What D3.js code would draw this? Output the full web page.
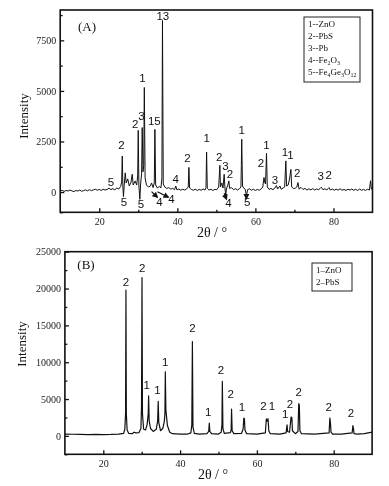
<!DOCTYPE html>
<html>
<head>
<meta charset="utf-8">
<script src="https://cdn.jsdelivr.net/npm/d3@7"></script>
<style>
body { margin: 0; background: #fff; }
svg { will-change: transform; }
.tick text { font-family: "Liberation Serif", "Times New Roman", serif; font-size: 10px; fill: #222; }
.peak { font-family: "Liberation Sans", Arial, sans-serif; font-size: 11.5px; fill: #111; }
.serif { font-family: "Liberation Serif", "Times New Roman", serif; fill: #111; }
</style>
</head>
<body>
<div id="chart"></div>
<script>
var svgWidth = 389;
var svgHeight = 486;

// shared x axis (2 theta, degrees)
var xTicks = [20, 40, 60, 80];
var xMinorTicks = [30, 50, 70];

// ---- panel (A) ----
var yTicksA = [0, 2500, 5000, 7500];
var yMinorTicksA = [-1000, 1250, 3750, 6250, 8750];
var profileA = [
  [10,40],[10.5,90],[11,30],[11.5,80],[12,50],[12.5,100],[13,60],[13.5,20],[14,80],[14.5,50],
  [15,100],[15.5,40],[16,70],[16.5,110],[17,60],[17.5,120],[18,70],[18.5,110],[19,140],[19.5,90],
  [20,130],[20.5,80],[21,140],[21.5,100],[22,130],[22.5,190],[23,120],[23.5,170],[24,110],[24.5,200],
  [25,150],[25.5,280],[25.75,500],[25.9,1780],[26.05,300],[26.2,-230],[26.4,350],[26.66,950],[26.9,450],
  [27.3,650],[27.7,300],[28.1,450],[28.45,880],[28.7,350],[29.2,550],[29.6,350],[29.85,800],[29.99,3050],
  [30.15,350],[30.4,-360],[30.6,400],[30.85,900],[31.01,3190],[31.2,1000],[31.4,1300],[31.55,5170],
  [31.75,700],[32.1,350],[32.6,250],[33.1,300],[33.4,450],[33.8,220],[34.1,450],[34.26,3100],[34.45,350],
  [34.9,200],[35.4,280],[35.8,200],[36.05,700],[36.2,8480],[36.4,400],[36.8,250],[37.3,180],[37.8,220],
  [38.3,150],[38.8,180],[39.3,120],[39.6,300],[39.9,110],[40.4,150],[40.9,90],[41.4,140],[41.9,100],
  [42.4,160],[42.8,250],[42.97,1220],[43.15,200],[43.6,130],[44.1,90],[44.6,140],[45.1,80],[45.6,130],
  [46.1,90],[46.6,150],[47.1,100],[47.35,220],[47.5,1980],[47.68,180],[48.1,100],[48.6,140],[49.1,80],
  [49.6,130],[50.1,120],[50.6,250],[50.9,1320],[51.05,250],[51.4,450],[51.7,200],[52.0,880],[52.2,200],
  [52.4,-150],[52.6,200],[52.9,300],[53.2,550],[53.4,180],[53.9,220],[54.4,120],[54.9,170],[55.4,100],
  [55.9,160],[56.3,250],[56.4,1300],[56.5,2610],[56.7,300],[57.0,200],[57.4,140],[57.7,-200],[58.0,120],
  [58.5,160],[59,90],[59.5,140],[60,80],[60.5,130],[61,90],[61.5,160],[61.9,250],[62.2,720],[62.45,450],
  [62.6,400],[62.85,1920],[63.05,250],[63.5,130],[64,180],[64.5,120],[65,200],[65.4,320],[65.7,150],
  [66.3,300],[66.6,140],[67.1,200],[67.5,250],[67.8,1540],[68.0,300],[68.4,350],[68.7,600],[69.1,1120],
  [69.3,250],[69.8,170],[70.3,200],[70.6,250],[70.9,470],[71.2,150],[71.7,230],[72.2,130],[72.7,180],
  [73.2,100],[73.7,160],[74.2,110],[74.7,170],[75.2,100],[75.7,150],[76.2,120],[76.6,180],[76.9,240],
  [77.3,120],[77.8,160],[78.3,110],[78.7,180],[78.9,220],[79.2,100],[79.7,150],[80.2,90],[80.7,140],
  [81.2,100],[81.7,160],[82.2,90],[82.7,130],[83.2,80],[83.7,140],[84.2,100],[84.7,150],[85.2,90],
  [85.7,130],[86.2,80],[86.7,150],[87.2,90],[87.7,130],[88.2,80],[88.7,140],[89.2,100],[89.5,560],
  [89.7,150],[90,120]
];
var labelsA = [
  [23.0,514,"5"],[26.3,-474,"5"],[30.7,-588,"5"],[35.4,-474,"4"],[38.5,-341,"4"],[39.6,647,"4"],
  [25.7,2327,"2"],[29.2,3350,"2"],[30.8,3775,"3"],[31.1,5637,"1"],[34.1,3528,"15"],[36.3,8700,"13"],
  [42.6,1670,"2"],[47.5,2658,"1"],[50.7,1750,"2"],[52.3,1304,"3"],[53.5,894,"2"],[53.1,-524,"4"],
  [56.5,3068,"1"],[57.9,-474,"5"],[61.4,1423,"2"],[62.85,2327,"1"],[65.0,598,"3"],[67.6,1996,"1"],
  [69.0,1833,"1"],[70.7,958,"2"],[76.75,796,"3"],[78.8,845,"2"]
];
var arrowsA = [
  [33.4,20,34.9,-257],[34.9,20,37.7,-257],[52.0,-60,52.6,-355],[57.7,-100,57.7,-330]
];
var legendA = ["1--ZnO", "2--PbS", "3--Pb", "4--Fe_2O_3", "5--Fe_4Ge_3O_12"];

// ---- panel (B) ----
var yTicksB = [0, 5000, 10000, 15000, 20000, 25000];
var yMinorTicksB = [-2500, 2500, 7500, 12500, 17500, 22500];
var profileB = [
  [10,250],[12,220],[14,200],[16,180],[18,200],[20,180],[22,200],[24,250],[25.3,350],[25.6,900],
  [25.8,3000],[25.9,19800],[26.0,3000],[26.2,800],[26.6,350],[27.5,300],[28,500],[28.5,400],[29.3,450],
  [29.8,1000],[29.95,4000],[30.08,21480],[30.2,3000],[30.5,900],[31.0,800],[31.4,1500],[31.7,3000],
  [31.8,5450],[31.95,2000],[32.3,1000],[33,600],[33.8,900],[34.15,2000],[34.3,4700],[34.45,1800],
  [34.9,700],[35.5,1000],[35.9,2000],[36.05,3000],[36.15,8700],[36.3,3500],[36.7,1400],[37.3,500],
  [38,300],[40,250],[42,250],[42.8,400],[43.05,1500],[43.2,12800],[43.35,1200],[43.7,350],[45,250],
  [47,300],[47.45,600],[47.6,1750],[47.75,600],[48.2,300],[50,250],[50.7,500],[50.9,1500],[51.0,7400],
  [51.15,1000],[51.5,350],[53.1,450],[53.3,800],[53.4,3650],[53.55,700],[54,300],[56,350],[56.4,900],
  [56.6,2420],[56.75,2300],[56.9,800],[57.3,300],[60,250],[62.2,400],[62.45,2300],[62.7,2000],
  [62.9,2330],[63.1,700],[63.5,300],[66,250],[67.6,400],[67.85,1500],[68.0,600],[68.5,500],[68.9,2550],
  [69.1,2500],[69.25,700],[70,300],[70.7,600],[70.9,4370],[71.05,4200],[71.2,700],[71.6,300],[75,250],
  [78.8,400],[79.0,2420],[79.15,1800],[79.3,500],[79.7,250],[82,250],[84.8,400],[85.0,1400],
  [85.15,1000],[85.3,300],[86,250],[88,300],[90,500]
];
var labelsB = [
  [25.9,20930,"2"],[30.1,22830,"2"],[31.3,6910,"1"],[34.1,6230,"1"],[36.15,10070,"1"],[43.2,14600,"2"],
  [47.3,3200,"1"],[50.65,8940,"2"],[53.2,5690,"2"],[56.1,3880,"1"],[61.7,4100,"2"],[63.9,4100,"1"],
  [67.4,2930,"1"],[68.6,4290,"2"],[70.9,5920,"2"],[78.7,3960,"2"],[84.5,3150,"2"]
];
var legendB = ["1\u2013ZnO", "2\u2013PbS"];

var svg = d3.select("#chart")
  .append("svg")
  .attr("width", svgWidth)
  .attr("height", svgHeight);

svg.append("rect")
  .attr("width", svgWidth)
  .attr("height", svgHeight)
  .attr("fill", "#fff");

svg.append("defs").append("marker")
  .attr("id", "head")
  .attr("viewBox", "0 0 10 10")
  .attr("refX", 8)
  .attr("refY", 5)
  .attr("markerWidth", 5)
  .attr("markerHeight", 5)
  .attr("orient", "auto")
  .append("path")
  .attr("d", "M0,0L10,5L0,10z")
  .attr("fill", "#111");

// writes "Fe_2O_3" style text with subscripts
function richText(sel, str) {
  var parts = str.split(/_(\d+)/);
  var down = false;
  parts.forEach(function(p, i) {
    if (p === "") return;
    var t = sel.append("tspan").text(p);
    if (i % 2 === 1) {
      t.attr("font-size", "6px").attr("dy", "2");
      down = true;
    } else if (down) {
      t.attr("dy", "-2");
      down = false;
    }
  });
}

function drawPanel(p) {
  var x = d3.scaleLinear().domain([10, 90]).range([p.left, p.right]);
  var y = d3.scaleLinear().domain(p.yDomain).range([p.bottom, p.top]);
  var g = svg.append("g");
  var clipId = "clip" + p.name.replace(/\W/g, "");

  g.append("clipPath").attr("id", clipId)
    .append("rect")
    .attr("x", p.left).attr("y", p.top)
    .attr("width", p.right - p.left).attr("height", p.bottom - p.top);

  var line = d3.line()
    .x(d => x(d[0]))
    .y(d => y(d[1]));

  g.append("path")
    .datum(p.profile)
    .attr("clip-path", `url(#${clipId})`)
    .attr("d", line)
    .attr("fill", "none")
    .attr("stroke", "#111")
    .attr("stroke-width", p.lineWidth)
    .attr("stroke-linejoin", "round");

  // axes with inward ticks
  var bottomAxis = d3.axisBottom(x).tickValues(xTicks).tickSizeInner(-4).tickSizeOuter(0).tickPadding(6);
  var bottomMinor = d3.axisBottom(x).tickValues(xMinorTicks).tickSizeInner(-2.5).tickSizeOuter(0).tickFormat("");
  var leftAxis = d3.axisLeft(y).tickValues(p.yTicks).tickSizeInner(-4).tickSizeOuter(0).tickPadding(4).tickFormat(d3.format("d"));
  var leftMinor = d3.axisLeft(y).tickValues(p.yMinor).tickSizeInner(-2.5).tickSizeOuter(0).tickFormat("");

  [[bottomAxis, `translate(0,${p.bottom})`], [bottomMinor, `translate(0,${p.bottom})`],
   [leftAxis, `translate(${p.left},0)`], [leftMinor, `translate(${p.left},0)`]].forEach(function(a) {
    var ax = g.append("g").attr("transform", a[1]).call(a[0]);
    ax.select(".domain").remove();
    ax.selectAll("line").attr("stroke", "#111").attr("stroke-width", 1.3);
  });

  g.append("rect")
    .attr("x", p.left).attr("y", p.top)
    .attr("width", p.right - p.left).attr("height", p.bottom - p.top)
    .attr("fill", "none")
    .attr("stroke", "#111")
    .attr("stroke-width", 1.6);

  g.selectAll(".peak")
    .data(p.labels)
    .enter()
    .append("text")
    .attr("class", "peak")
    .attr("x", d => x(d[0]))
    .attr("y", d => y(d[1]))
    .attr("dy", "0.36em")
    .attr("text-anchor", "middle")
    .text(d => d[2]);

  g.selectAll(".arrow")
    .data(p.arrows)
    .enter()
    .append("line")
    .attr("x1", d => x(d[0])).attr("y1", d => y(d[1]))
    .attr("x2", d => x(d[2])).attr("y2", d => y(d[3]))
    .attr("stroke", "#111")
    .attr("stroke-width", 1.2)
    .attr("marker-end", "url(#head)");

  g.append("text")
    .attr("class", "serif")
    .attr("x", p.tag[0]).attr("y", p.tag[1])
    .attr("dy", "0.35em")
    .attr("text-anchor", "middle")
    .attr("font-size", "13px")
    .text(p.name);

  g.append("text")
    .attr("class", "serif")
    .attr("transform", `translate(${p.yTitle[0]},${p.yTitle[1]}) rotate(-90)`)
    .attr("dy", "0.35em")
    .attr("text-anchor", "middle")
    .attr("font-size", "13px")
    .text("Intensity");

  g.append("text")
    .attr("class", "serif")
    .attr("x", p.xTitle[0]).attr("y", p.xTitle[1])
    .attr("dy", "0.35em")
    .attr("text-anchor", "middle")
    .attr("font-size", "14px")
    .text("2\u03B8 / \u00B0");

  // legend box
  var lg = p.legendBox;
  g.append("rect")
    .attr("x", lg[0]).attr("y", lg[1])
    .attr("width", lg[2]).attr("height", lg[3])
    .attr("fill", "#fff")
    .attr("stroke", "#222")
    .attr("stroke-width", 1);

  p.legend.forEach(function(item, i) {
    var t = g.append("text")
      .attr("class", "serif")
      .attr("x", lg[0] + 4)
      .attr("y", lg[1] + 10 + i * lg[4])
      .attr("font-size", "9px");
    richText(t, item);
  });
}

drawPanel({
  name: "(A)",
  left: 60.2, right: 372.5, top: 10, bottom: 212.3,
  yDomain: [-1000, 9000],
  yTicks: yTicksA, yMinor: yMinorTicksA,
  profile: profileA, labels: labelsA, arrows: arrowsA,
  lineWidth: 1,
  tag: [87, 26], yTitle: [23, 116], xTitle: [212, 232],
  legendBox: [304, 17, 56, 65, 12],
  legend: legendA
});

drawPanel({
  name: "(B)",
  left: 64.9, right: 372.1, top: 251.7, bottom: 454.3,
  yDomain: [-2500, 25000],
  yTicks: yTicksB, yMinor: yMinorTicksB,
  profile: profileB, labels: labelsB, arrows: [],
  lineWidth: 1.2,
  tag: [86, 264], yTitle: [21, 344], xTitle: [213, 474],
  legendBox: [312, 263, 40, 28, 12],
  legend: legendB
});
</script>
</body>
</html>
